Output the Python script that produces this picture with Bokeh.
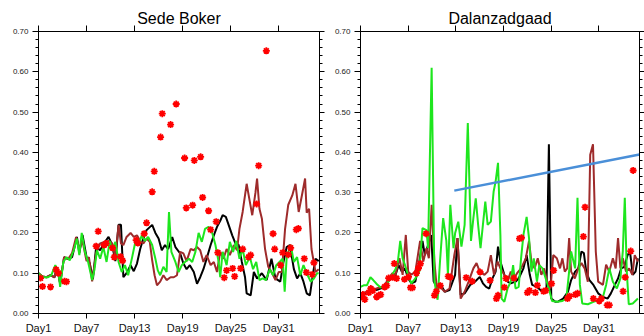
from bokeh.plotting import figure
from bokeh.layouts import row
from bokeh.models import (Range1d, LinearAxis, FixedTicker,
                          PrintfTickFormatter, CustomJSTickFormatter)
from bokeh.embed import file_html
from bokeh.resources import INLINE

# ---------------- shared axis data ----------------
day_ticks = [1, 7, 13, 19, 25, 31]
day_labels = ["Day1", "Day7", "Day13", "Day19", "Day25", "Day31"]
y_ticks = [0.0, 0.1, 0.2, 0.3, 0.4, 0.5, 0.6, 0.7]
y_minor_ticks = [round(0.02 * i, 2) for i in range(36)]
y_max = 0.70
x_min, x_max = 1, 36.1

# ---------------- Sede Boker ----------------
sb_black_day = [1, 1.5, 2, 2.5, 3, 3.3, 3.7, 4.2, 4.7, 5.2,
                5.8, 6.1, 6.5, 7.0, 7.4, 7.8, 8.2, 8.7, 9.2, 9.75,
                10.2, 10.6, 11.0, 11.3, 11.6, 12.0, 12.5, 12.9, 13.3, 13.7,
                14.1, 14.5, 15.2, 15.6, 16.0, 16.4, 16.8, 17.2, 17.7, 18.1,
                18.7, 19.1, 19.5, 19.9, 20.4, 20.8, 21.2, 21.6, 22.0, 22.5,
                22.9, 23.3, 23.7, 24.0, 24.4, 24.75, 25.2, 25.6, 26.0, 26.4,
                26.8, 27.0, 27.5, 27.9, 28.3, 28.9, 29.5, 30.1, 30.6, 31.2,
                31.6, 32.0, 32.4, 32.9, 33.3, 33.7, 34.1, 34.5, 34.9, 35.3,
                35.6, 36.0]
sb_black = [0.10, 0.092, 0.09, 0.095, 0.09, 0.115, 0.075, 0.14, 0.135, 0.14,
            0.19, 0.15, 0.195, 0.14, 0.125, 0.085, 0.165, 0.157, 0.175, 0.19,
            0.17, 0.13, 0.22, 0.22, 0.09, 0.10, 0.12, 0.105, 0.124, 0.16,
            0.186, 0.207, 0.22, 0.20, 0.186, 0.157, 0.17, 0.16, 0.19, 0.165,
            0.149, 0.124, 0.11, 0.12, 0.103, 0.074, 0.09, 0.11, 0.136, 0.17,
            0.194, 0.215, 0.23, 0.244, 0.24, 0.22, 0.194, 0.174, 0.17, 0.128,
            0.09, 0.05, 0.045, 0.103, 0.087, 0.10, 0.083, 0.136, 0.087, 0.079,
            0.128, 0.165, 0.17, 0.11, 0.087, 0.10, 0.079, 0.05, 0.045, 0.10,
            0.136, 0.13]

sb_brown_day = [1, 1.5, 2, 2.5, 3, 3.3, 3.7, 4.2, 4.7, 5.2,
                5.7, 6.1, 6.5, 7.0, 7.3, 7.7, 8.2, 8.7, 9.3, 9.8,
                10.2, 10.6, 11.0, 11.3, 11.6, 12.0, 12.5, 12.9, 13.3, 13.7,
                14.1, 14.5, 14.9, 15.2, 15.5, 15.8, 16.2, 16.6, 17.0, 17.5,
                17.9, 18.3, 18.7, 19.1, 19.5, 20.0, 20.4, 20.8, 21.2, 21.6,
                22.0, 22.5, 22.9, 23.3, 23.7, 24.1, 24.5, 24.9, 25.4, 25.8,
                26.1, 26.5, 27.0, 27.4, 27.7, 28.1, 28.3, 28.6, 28.9, 29.3,
                29.7, 30.1, 30.6, 31.0, 31.4, 31.8, 32.2, 32.7, 33.1, 33.5,
                33.9, 34.3, 34.5, 34.8, 35.1, 35.6, 36.0]
sb_brown = [0.10, 0.092, 0.09, 0.095, 0.09, 0.115, 0.075, 0.14, 0.135, 0.15,
            0.19, 0.16, 0.18, 0.13, 0.14, 0.08, 0.15, 0.174, 0.178, 0.18,
            0.174, 0.14, 0.22, 0.174, 0.17, 0.19, 0.20, 0.19, 0.194, 0.18,
            0.174, 0.186, 0.178, 0.132, 0.095, 0.07, 0.079, 0.095, 0.083, 0.09,
            0.09, 0.095, 0.153, 0.149, 0.13, 0.16, 0.157, 0.165, 0.157, 0.128,
            0.145, 0.12, 0.128, 0.103, 0.153, 0.136, 0.16, 0.145, 0.17, 0.157,
            0.21, 0.252, 0.322, 0.277, 0.244, 0.30, 0.335, 0.26, 0.236, 0.16,
            0.116, 0.103, 0.083, 0.103, 0.103, 0.21, 0.27, 0.293, 0.322, 0.252,
            0.293, 0.335, 0.25, 0.26, 0.16, 0.103, 0.11]

sb_green_day = [1, 1.6, 2.2, 2.6, 3.1, 3.5, 3.7, 4.1, 4.5, 4.9,
                5.4, 5.8, 6.1, 6.4, 6.8, 7.2, 7.7, 8.0, 8.3, 8.7,
                9.1, 9.5, 9.9, 10.2, 10.6, 11.0, 11.4, 11.8, 12.2, 12.7,
                13.1, 13.5, 13.9, 14.3, 14.7, 15.2, 15.6, 15.9, 16.2, 16.6,
                17.0, 17.3, 17.6, 18.1, 18.5, 18.9, 19.3, 19.8, 20.2, 20.6,
                21.0, 21.4, 21.8, 22.25, 22.7, 23.1, 23.5, 23.7, 24.0, 24.5,
                24.9, 25.3, 25.7, 26.1, 26.5, 26.9, 27.4, 27.8, 28.2, 28.6,
                29.0, 29.4, 29.9, 30.3, 30.7, 31.1, 31.5, 31.75, 32.0, 32.5,
                32.9, 33.3, 33.7, 34.1, 34.5, 35.0, 35.4, 35.8, 36.0]
sb_green = [0.10, 0.09, 0.09, 0.095, 0.12, 0.103, 0.066, 0.128, 0.14, 0.132,
            0.157, 0.186, 0.145, 0.20, 0.153, 0.128, 0.083, 0.11, 0.157, 0.136,
            0.165, 0.128, 0.18, 0.157, 0.178, 0.128, 0.103, 0.12, 0.095, 0.14,
            0.178, 0.17, 0.194, 0.18, 0.19, 0.17, 0.136, 0.107, 0.095, 0.116,
            0.103, 0.252, 0.153, 0.128, 0.103, 0.12, 0.128, 0.136, 0.128, 0.153,
            0.20, 0.178, 0.21, 0.215, 0.20, 0.17, 0.128, 0.09, 0.153, 0.12,
            0.178, 0.153, 0.18, 0.136, 0.16, 0.12, 0.14, 0.11, 0.128, 0.083,
            0.087, 0.083, 0.11, 0.095, 0.12, 0.128, 0.136, 0.054, 0.14, 0.17,
            0.128, 0.14, 0.095, 0.12, 0.10, 0.079, 0.087, 0.10, 0.10]

sb_obs_day = [1.25, 1.5, 2.5, 3.2, 3.5, 4.25, 4.5, 8.2, 8.46, 9.2,
              9.46, 10.25, 10.46, 11.25, 11.5, 13.2, 13.4, 14.2, 14.5, 15.2,
              15.46, 16.25, 16.46, 17.5, 18.2, 19.25, 19.46, 20.25, 20.46, 21.25,
              21.5, 22.25, 22.5, 23.2, 23.4, 24.2, 24.5, 25.25, 25.5, 26.25,
              26.5, 27.25, 27.5, 28.25, 28.5, 29.46, 30.3, 30.5, 31.25, 31.5,
              32.2, 32.5, 33.2, 33.46, 34.2, 34.46, 35.2, 35.4]
sb_obs = [0.088, 0.067, 0.066, 0.109, 0.10, 0.08, 0.079, 0.167, 0.204, 0.17,
          0.174, 0.163, 0.14, 0.141, 0.131, 0.182, 0.175, 0.198, 0.225, 0.302,
          0.353, 0.438, 0.496, 0.469, 0.52, 0.386, 0.262, 0.269, 0.38, 0.389,
          0.288, 0.255, 0.208, 0.228, 0.151, 0.089, 0.107, 0.112, 0.092, 0.112,
          0.16, 0.14, 0.145, 0.272, 0.367, 0.652, 0.198, 0.16, 0.12, 0.151,
          0.146, 0.163, 0.208, 0.211, 0.136, 0.102, 0.097, 0.126]

# ---------------- Dalanzadgaad ----------------
dz_black_day = [1.0, 1.5, 2.0, 2.5, 3.0, 3.5, 4.0, 4.5, 5.0, 5.4,
                5.8, 6.2, 6.6, 7.0, 7.4, 7.9, 8.4, 8.8, 9.1, 9.5,
                9.9, 10.2, 10.6, 11.0, 11.6, 12.2, 12.9, 13.2, 13.6, 14.1,
                14.8, 15.4, 16.0, 16.4, 16.8, 17.2, 17.6, 18.0, 18.3, 18.6,
                19.1, 19.5, 19.9, 20.5, 20.9, 21.5, 21.9, 22.3, 22.6, 23.2,
                23.9, 24.4, 24.7, 25.0, 25.5, 25.9, 26.5, 27.1, 27.5, 28.0,
                28.4, 28.8, 29.1, 29.4, 29.8, 30.3, 30.9, 31.5, 32.1, 32.5,
                33.0, 33.4, 33.8, 34.2, 34.6, 34.9, 35.25, 35.6, 35.9]
dz_black = [0.05, 0.05, 0.055, 0.06, 0.058, 0.062, 0.065, 0.08, 0.09, 0.096,
            0.12, 0.104, 0.112, 0.087, 0.075, 0.079, 0.129, 0.18, 0.145, 0.17,
            0.195, 0.08, 0.066, 0.075, 0.054, 0.058, 0.096, 0.187, 0.046, 0.05,
            0.071, 0.079, 0.091, 0.075, 0.066, 0.062, 0.087, 0.104, 0.166, 0.129,
            0.096, 0.079, 0.075, 0.079, 0.087, 0.112, 0.145, 0.096, 0.071, 0.066,
            0.054, 0.062, 0.42, 0.037, 0.029, 0.03, 0.037, 0.054, 0.083, 0.104,
            0.112, 0.154, 0.15, 0.104, 0.083, 0.071, 0.05, 0.041, 0.037, 0.05,
            0.071, 0.087, 0.112, 0.116, 0.145, 0.154, 0.096, 0.104, 0.137]

dz_brown_day = [1.0, 1.5, 2.0, 2.5, 3.0, 3.5, 4.0, 4.5, 5.0, 5.4,
                5.9, 6.3, 6.7, 7.0, 7.4, 7.9, 8.5, 8.9, 9.3, 9.6,
                9.95, 10.3, 10.6, 11.0, 11.6, 12.2, 12.8, 13.2, 13.6, 14.1,
                14.6, 15.2, 15.6, 16.0, 16.6, 17.0, 17.4, 17.8, 18.25, 18.6,
                19.1, 19.5, 19.9, 20.3, 20.7, 21.2, 21.8, 22.2, 22.5, 22.9,
                23.3, 23.75, 24.1, 24.5, 24.9, 25.25, 25.7, 26.1, 26.4, 26.7,
                27.0, 27.25, 27.5, 27.96, 28.4, 28.8, 29.2, 29.6, 29.9, 30.25,
                30.6, 30.9, 31.5, 31.9, 32.3, 32.75, 33.1, 33.4, 33.7, 34.0,
                34.4, 34.8, 35.2, 35.5, 35.9]
dz_brown = [0.05, 0.052, 0.055, 0.06, 0.062, 0.065, 0.07, 0.085, 0.10, 0.096,
            0.137, 0.096, 0.195, 0.104, 0.096, 0.104, 0.18, 0.129, 0.162, 0.137,
            0.27, 0.129, 0.062, 0.066, 0.054, 0.062, 0.145, 0.187, 0.037, 0.054,
            0.079, 0.112, 0.125, 0.104, 0.096, 0.104, 0.145, 0.096, 0.129, 0.112,
            0.096, 0.079, 0.104, 0.087, 0.10, 0.112, 0.137, 0.18, 0.129, 0.112,
            0.137, 0.096, 0.112, 0.079, 0.062, 0.145, 0.137, 0.112, 0.137, 0.104,
            0.112, 0.187, 0.104, 0.087, 0.112, 0.125, 0.112, 0.079, 0.394, 0.42,
            0.154, 0.079, 0.071, 0.121, 0.104, 0.137, 0.112, 0.187, 0.112, 0.137,
            0.104, 0.112, 0.096, 0.145, 0.129]

dz_green_day = [1.0, 1.4, 1.8, 2.25, 2.6, 3.1, 3.5, 3.9, 4.4, 4.8,
                5.1, 5.4, 5.7, 6.0, 6.3, 6.6, 7.0, 7.4, 7.9, 8.4,
                8.8, 9.3, 9.5, 9.95, 10.3, 10.7, 11.0, 11.4, 11.8, 12.0,
                12.3, 12.7, 12.9, 13.3, 13.7, 14.1, 14.5, 14.9, 15.2, 15.5,
                15.8, 16.1, 16.4, 16.7, 17.0, 17.4, 17.75, 18.0, 18.3, 18.6,
                18.75, 19.1, 19.5, 19.9, 20.2, 20.5, 20.9, 21.2, 21.5, 21.9,
                22.2, 22.5, 22.8, 23.2, 23.5, 23.9, 24.3, 24.7, 25.1, 25.75,
                26.4, 26.9, 27.5, 28.0, 28.3, 28.6, 28.9, 29.6, 30.3, 30.9,
                31.5, 31.9, 32.3, 32.75, 33.25, 33.7, 34.0, 34.25, 34.5, 34.75,
                35.25, 35.9]
dz_green = [0.066, 0.07, 0.07, 0.09, 0.083, 0.072, 0.065, 0.065, 0.075, 0.09,
            0.10, 0.11, 0.129, 0.18, 0.137, 0.12, 0.095, 0.075, 0.087, 0.104,
            0.212, 0.207, 0.162, 0.61, 0.08, 0.034, 0.129, 0.237, 0.18, 0.096,
            0.27, 0.162, 0.199, 0.228, 0.166, 0.22, 0.473, 0.18, 0.237, 0.286,
            0.22, 0.162, 0.22, 0.278, 0.22, 0.228, 0.303, 0.328, 0.374, 0.195,
            0.037, 0.029, 0.062, 0.079, 0.12, 0.062, 0.066, 0.137, 0.195, 0.24,
            0.187, 0.104, 0.137, 0.079, 0.12, 0.112, 0.087, 0.062, 0.031, 0.029,
            0.031, 0.037, 0.154, 0.112, 0.287, 0.071, 0.025, 0.023, 0.029, 0.033,
            0.041, 0.071, 0.112, 0.079, 0.062, 0.087, 0.154, 0.287, 0.104, 0.023,
            0.025, 0.037]

dz_obs_day = [1.04, 1.3, 1.54, 2.04, 2.3, 2.54, 3.04, 3.3, 3.54, 4.04,
              4.3, 4.54, 5.04, 5.25, 5.54, 6.54, 7.04, 7.3, 7.54, 8.04,
              8.3, 8.54, 9.25, 10.3, 10.54, 11.04, 12.04, 12.3, 14.3, 15.04,
              16.04, 17.3, 18.1, 18.3, 19.1, 19.3, 20.3, 21.0, 21.25, 22.0,
              22.25, 23.0, 23.25, 24.04, 24.3, 25.04, 25.3, 27.04, 27.3, 28.04,
              28.3, 29.04, 29.25, 30.3, 31.04, 31.3, 32.04, 32.3, 34.04, 34.3,
              35.0, 35.3]
dz_obs = [0.041, 0.047, 0.035, 0.052, 0.062, 0.057, 0.041, 0.045, 0.047, 0.066,
          0.069, 0.088, 0.09, 0.124, 0.087, 0.085, 0.091, 0.064, 0.064, 0.10,
          0.113, 0.124, 0.198, 0.045, 0.055, 0.069, 0.092, 0.09, 0.089, 0.08,
          0.103, 0.082, 0.037, 0.045, 0.065, 0.087, 0.088, 0.186, 0.188, 0.052,
          0.057, 0.052, 0.07, 0.055, 0.057, 0.074, 0.107, 0.037, 0.043, 0.047,
          0.05, 0.191, 0.264, 0.037, 0.031, 0.037, 0.021, 0.021, 0.055, 0.09,
          0.155, 0.355]

dz_trend_day = [12.8, 36.1]
dz_trend = [0.305, 0.3946]

# ---------------- styling ----------------
FONT = "Liberation Sans"
C_BLACK = "#000000"
C_BROWN = "#9E2B2B"
C_GREEN = "#1EE61E"
C_RED = "#FF0000"
C_BLUE = "#4A8FD8"

BLANK = CustomJSTickFormatter(code="return ''")


def style_y(ax, labels=True):
    ax.ticker = FixedTicker(ticks=y_ticks, minor_ticks=y_minor_ticks)
    ax.major_tick_in = 0
    ax.minor_tick_out = 3
    ax.minor_tick_in = 0
    ax.axis_line_color = "black"
    ax.major_tick_line_color = "black"
    ax.minor_tick_line_color = "black"
    if labels:
        ax.formatter = PrintfTickFormatter(format="%.2f")
        ax.major_tick_out = 6
        ax.major_label_text_font = FONT
        ax.major_label_text_font_size = "8px"
        ax.major_label_text_color = "#222222"
        ax.major_label_standoff = 4
    else:
        ax.formatter = BLANK
        ax.major_tick_out = 5
        ax.major_label_text_font_size = "1px"
        ax.major_label_standoff = 0


def style_x(ax, labels=True):
    ax.ticker = FixedTicker(ticks=day_ticks, minor_ticks=[])
    ax.major_tick_in = 0
    ax.minor_tick_line_color = None
    ax.axis_line_color = "black"
    ax.major_tick_line_color = "black"
    if labels:
        ax.major_label_overrides = {t: lab for t, lab in zip(day_ticks, day_labels)}
        ax.major_tick_out = 5
        ax.major_label_text_font = FONT
        ax.major_label_text_font_size = "11px"
        ax.major_label_text_color = "#111111"
        ax.major_label_standoff = 3
    else:
        ax.formatter = BLANK
        ax.major_tick_out = 6
        ax.major_label_text_font_size = "1px"
        ax.major_label_standoff = 0


def make_panel(title, width, border_left, border_right):
    p = figure(width=width, height=336, output_backend="svg", toolbar_location=None,
               x_range=Range1d(x_min, x_max), y_range=Range1d(0, y_max),
               min_border_left=border_left, min_border_right=border_right,
               min_border_top=31, min_border_bottom=0)
    p.title.text = title
    p.title.align = "center"
    p.title.text_font = FONT
    p.title.text_font_size = "16px"
    p.title.text_font_style = "normal"
    p.title.text_color = "black"
    p.title.standoff = -2
    p.xgrid.visible = False
    p.ygrid.visible = False
    p.outline_line_color = "black"
    p.outline_line_width = 1
    p.background_fill_color = "white"
    p.border_fill_color = "white"
    style_x(p.xaxis[0], True)
    style_y(p.yaxis[0], True)
    top = LinearAxis()
    style_x(top, False)
    p.add_layout(top, "above")
    right = LinearAxis()
    style_y(right, False)
    p.add_layout(right, "right")
    return p


MARK = dict(marker="asterisk", size=7, line_color=C_RED, line_width=1.8)

p1 = make_panel("Sede Boker", 326, 38, 7)
p1.line(sb_black_day, sb_black, line_color=C_BLACK, line_width=2)
p1.line(sb_brown_day, sb_brown, line_color=C_BROWN, line_width=2)
p1.line(sb_green_day, sb_green, line_color=C_GREEN, line_width=2)
p1.scatter(sb_obs_day, sb_obs, **MARK)

p2 = make_panel("Dalanzadgaad", 318, 34, 5)
p2.line(dz_black_day, dz_black, line_color=C_BLACK, line_width=2)
p2.line(dz_brown_day, dz_brown, line_color=C_BROWN, line_width=2)
p2.line(dz_green_day, dz_green, line_color=C_GREEN, line_width=2)
p2.scatter(dz_obs_day, dz_obs, **MARK)
p2.line(dz_trend_day, dz_trend, line_color=C_BLUE, line_width=2.5)

layout = row(p1, p2)
open("out.html", "w").write(file_html(layout, INLINE))
